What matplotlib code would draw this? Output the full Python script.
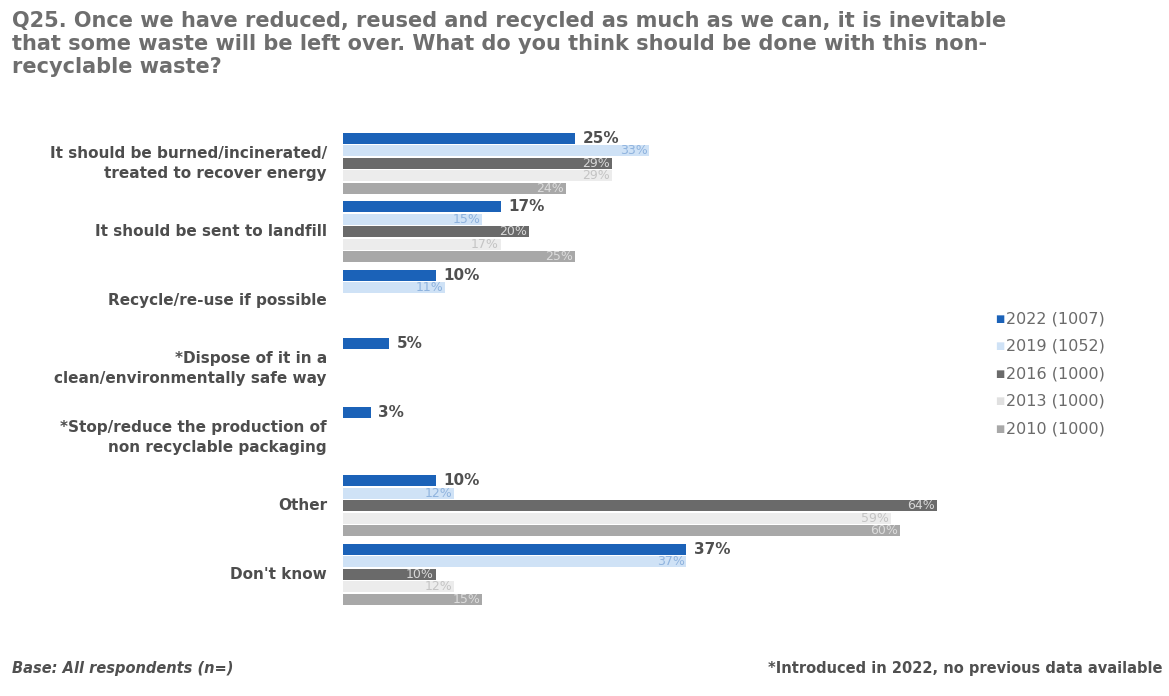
import numpy as np
import matplotlib
matplotlib.use("Agg")
import matplotlib.pyplot as plt
from matplotlib.transforms import blended_transform_factory

categories = [
    "It should be burned/incinerated/\ntreated to recover energy",
    "It should be sent to landfill",
    "Recycle/re-use if possible",
    "*Dispose of it in a\nclean/environmentally safe way",
    "*Stop/reduce the production of\nnon recyclable packaging",
    "Other",
    "Don't know",
]
series_names = ["2022 (1007)", "2019 (1052)", "2016 (1000)", "2013 (1000)", "2010 (1000)"]
# None = no data for that year
v2022 = [25, 17, 10, 5, 3, 10, 37]
v2019 = [33, 15, 11, None, None, 12, 37]
v2016 = [29, 20, None, None, None, 64, 10]
v2013 = [29, 17, None, None, None, 59, 12]
v2010 = [24, 25, None, None, None, 60, 15]
values = [v2022, v2019, v2016, v2013, v2010]

colors = ["#1b62b8", "#cfe2f6", "#6a6a6a", "#ececec", "#a8a8a8"]
label_colors = ["#505050", "#8fb3de", "#d8d8d8", "#c4c4c4", "#dcdcdc"]

W, H = 1169, 696
fig = plt.figure(figsize=(W / 100, H / 100), dpi=100)
fig.patch.set_facecolor("white")

ax_l, ax_r, ax_t, ax_b = 343, 1100, 120, 610
ax = fig.add_axes([ax_l / W, 1 - ax_b / H, (ax_r - ax_l) / W, (ax_b - ax_t) / H])
px_per_pct = 9.28
ax.set_xlim(0, (ax_r - ax_l) / px_per_pct)
group_px = 68.5
bar_px = 12.4
ax.set_ylim((ax_b - 138.5) / group_px, (ax_t - 138.5) / group_px)
ax.axis("off")

pitch = bar_px / group_px
height = 11 / group_px

for k, vals in enumerate(values):
    for g, v in enumerate(vals):
        if v is None:
            continue
        y = g + k * pitch
        ax.barh(y, v, height=height, color=colors[k], edgecolor="none")
        if k == 0:
            ax.text(v + 0.8, y, f"{v}%", va="center", ha="left", fontsize=11,
                    fontweight="bold", color=label_colors[k])
        else:
            ax.text(v - 0.2, y, f"{v}%", va="center", ha="right", fontsize=9,
                    color=label_colors[k])

trans = blended_transform_factory(ax.transAxes, ax.transData)
for g, cat in enumerate(categories):
    ax.text(-16 / (ax_r - ax_l), g + 2 * pitch, cat, transform=trans, ha="right",
            va="center", fontsize=11, fontweight="bold", color="#4d4d4d",
            linespacing=1.45, multialignment="right")

# legend
leg_y = [319, 346, 374, 401, 429]
for k, name in enumerate(series_names):
    fig.text(995 / W, 1 - leg_y[k] / H, "\u25a0", fontsize=7, color=colors[k] if k != 3 else "#e0e0e0",
             va="center", ha="left")
    fig.text(1006 / W, 1 - leg_y[k] / H, name, fontsize=11.5, color="#6a6a6a",
             va="center", ha="left")

title = ("Q25. Once we have reduced, reused and recycled as much as we can, it is inevitable\n"
         "that some waste will be left over. What do you think should be done with this non-\n"
         "recyclable waste?")
fig.text(12 / W, 1 - 11 / H, title, fontsize=15, fontweight="bold", color="#6e6e6e",
         va="top", ha="left", linespacing=1.18)

fig.text(12 / W, 1 - 668 / H, "Base: All respondents (n=)", fontsize=10.5, style="italic",
         fontweight="bold", color="#505050", va="center", ha="left")
fig.text(1163 / W, 1 - 668 / H, "*Introduced in 2022, no previous data available", fontsize=10.5,
         fontweight="bold", color="#505050", va="center", ha="right")

fig.savefig("out.png", dpi=100)
